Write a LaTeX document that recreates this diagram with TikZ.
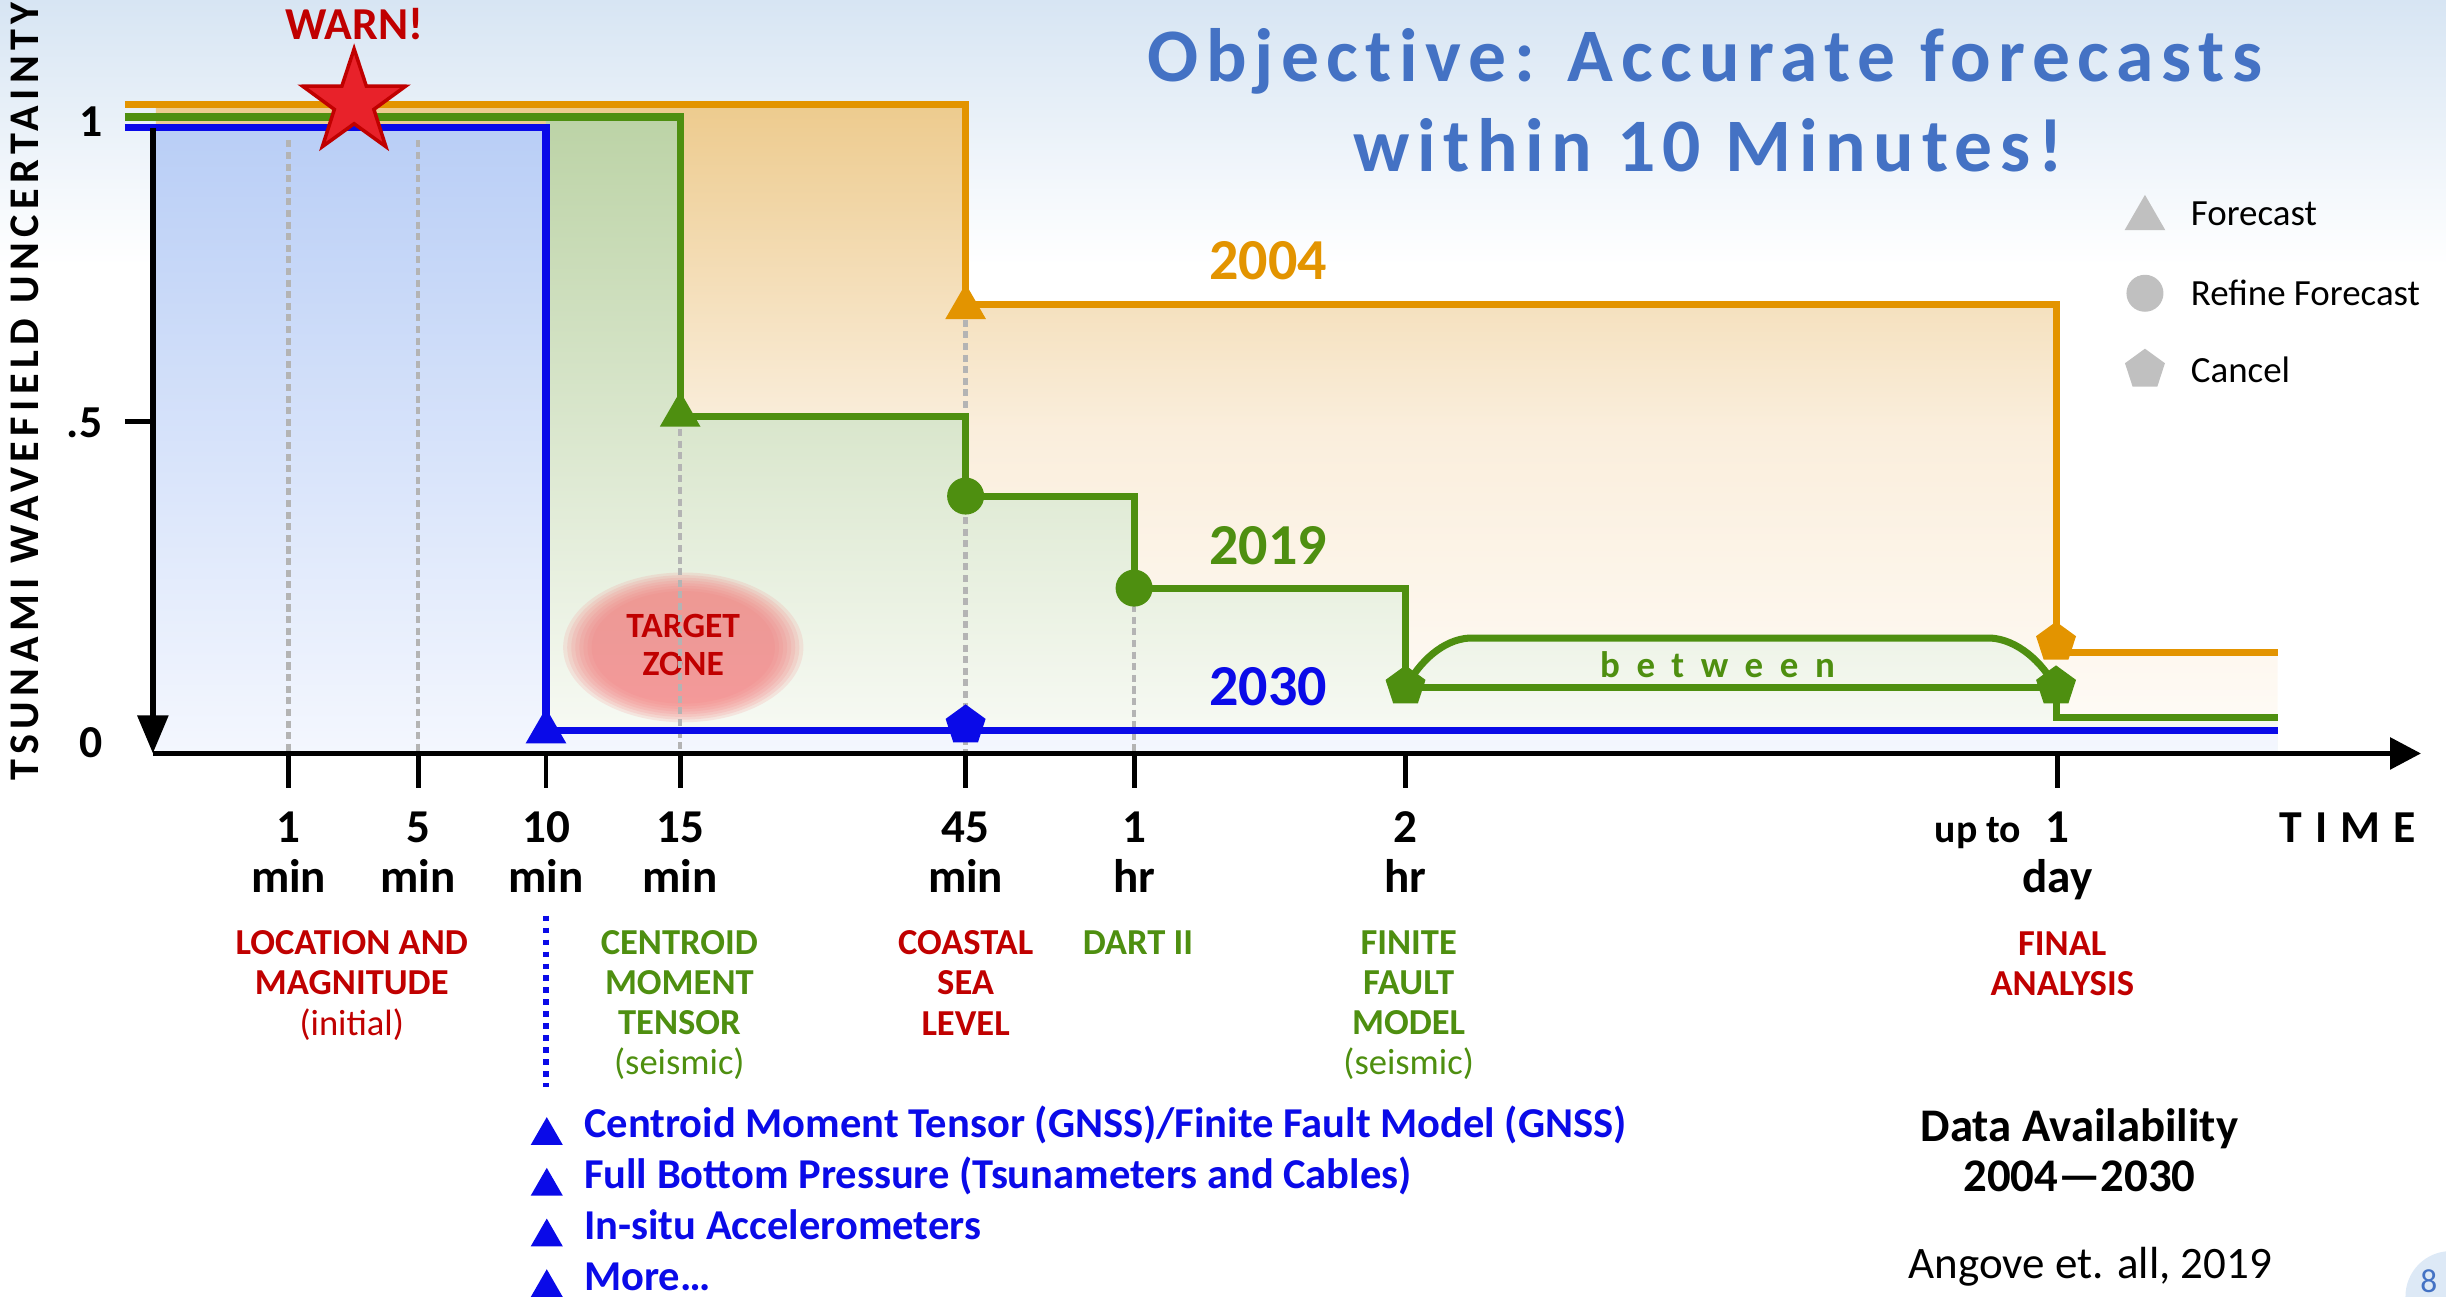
\documentclass[tikz,border=0pt]{standalone}
\usepackage{fontspec}
\setmainfont{Carlito}
\usetikzlibrary{arrows.meta,shapes.geometric}

\definecolor{line04}{HTML}{E39400}
\definecolor{line19}{HTML}{4E8F10}
\definecolor{line30}{HTML}{0A0AE8}
\definecolor{alertred}{HTML}{C00000}
\definecolor{warnred}{HTML}{E8222A}
\definecolor{titleblue}{HTML}{4472C4}
\definecolor{markgray}{HTML}{C0C0C0}
\definecolor{dotgray}{HTML}{B4B4B4}
\definecolor{bgblue}{HTML}{D7E5F3}
\definecolor{pageblue}{HTML}{DDE9F6}
\definecolor{fillAtop}{HTML}{EDCB8E}
\definecolor{fillAmid}{HTML}{FAEEDC}
\definecolor{fillAbot}{HTML}{FFFCF8}
\definecolor{fillBtop}{HTML}{BCD3A6}
\definecolor{fillBbot}{HTML}{F9FBF6}
\definecolor{fillCtop}{HTML}{B9CEF6}
\definecolor{fillCbot}{HTML}{F4F7FE}
\definecolor{blobred}{HTML}{F47F7F}

\tikzset{
  stepline/.style={line width=2pt},
  axisline/.style={line width=1.6pt, black},
  tickline/.style={line width=1.4pt, black},
  guideline/.style={dotgray, line width=1.3pt, dash pattern=on 2pt off 1.3pt},
  tri/.style={regular polygon, regular polygon sides=3, minimum size=0.47cm, inner sep=0pt},
  listtri/.style={regular polygon, regular polygon sides=3, minimum size=0.37cm, inner sep=0pt, fill=line30},
  pent/.style={regular polygon, regular polygon sides=5, minimum size=0.42cm, inner sep=0pt},
  refinedot/.style={circle, minimum size=0.37cm, inner sep=0pt},
  ticklab/.style={font=\fontsize{13.4}{14.2}\selectfont\bfseries, align=center, anchor=base, inner sep=0pt},
  catlab/.style={font=\fontsize{10.4}{11.4}\selectfont\bfseries, align=center, anchor=base, inner sep=0pt},
  yearlab/.style={font=\fontsize{16.5}{18}\selectfont\bfseries, inner sep=0pt},
  legendlab/.style={font=\fontsize{10.5}{12}\selectfont, anchor=west, inner sep=0pt},
  listlab/.style={font=\fontsize{12.1}{14}\selectfont\bfseries, line30, anchor=base west, inner sep=0pt},
  titlelab/.style={font=\fontsize{21.5}{24}\selectfont\bfseries\addfontfeature{LetterSpace=10,Ligatures=NoCommon}, titleblue, anchor=base, inner sep=0pt},
  ynum/.style={font=\fontsize{13}{14}\selectfont\bfseries, anchor=east, inner sep=0pt},
}

\begin{document}
\begin{tikzpicture}[x=0.0156cm, y=-0.0156cm]
  % 坐标轴位置
  \def\yaxis{98}
  \def\base{483}

  % 0. 画布与背景
  \useasboundingbox (0,0) rectangle (1568,831);
  \shade[top color=bgblue, bottom color=white] (0,0) rectangle (1568,170);

  % 1. 三个年份的阴影区域
  \shade[top color=fillAtop, bottom color=fillAbot, middle color=fillAmid]
    (100,67) -- (619,67) -- (619,195) -- (1318,195) -- (1318,418)
    -- (1460,418) -- (1460,\base) -- (100,\base) -- cycle;
  \shade[top color=fillBtop, bottom color=fillBbot]
    (350,75) -- (436,75) -- (436,267) -- (619,267) -- (619,318) -- (727,318)
    -- (727,377) -- (901,377) -- (901,441)
    .. controls (910,424) and (925,410) .. (942,409) -- (1276,409)
    .. controls (1293,410) and (1309,424) .. (1318,441)
    -- (1318,460) -- (1460,460) -- (1460,\base) -- (350,\base) -- cycle;
  \shade[top color=fillCtop, bottom color=fillCbot]
    (100,82) -- (350,82) -- (350,468) -- (1460,468) -- (1460,\base) -- (100,\base) -- cycle;

  % 2. 目标区（模糊红斑）
  \foreach \k in {0,...,7}
    \fill[blobred, opacity=0.16] (438,415) ellipse [x radius=77-2.6*\k, y radius=48-1.7*\k];
  % 多行节点的 base 是最后一行的基线
  \node[font=\fontsize{10.1}{10.8}\selectfont\bfseries, alertred, align=center, anchor=base, inner sep=0pt]
    (target) at (438,433) {TARGET\\ZONE};

  % 3. 灰色虚线
  \draw[guideline] (185,90) -- (185,\base);
  \draw[guideline] (268,90) -- (268,\base);
  \draw[guideline] (436,275) -- (436,\base);
  \draw[guideline] (619,205) -- (619,\base);
  \draw[guideline] (727,388) -- (727,\base);

  % 4. 阶梯线
  \draw[stepline, line04] (80,67) -- (619,67) -- (619,195) -- (1318,195) -- (1318,418) -- (1460,418);
  \draw[stepline, line19] (80,75) -- (436,75) -- (436,267) -- (619,267) -- (619,318) -- (727,318)
    -- (727,377) -- (901,377) -- (901,441) -- (1318,441) -- (1318,460) -- (1460,460);
  \draw[stepline, line19] (901,441) .. controls (910,424) and (925,410) .. (942,409) -- (1276,409)
    .. controls (1293,410) and (1309,424) .. (1318,441);
  \draw[stepline, line30] (80,82) -- (350,82) -- (350,468) -- (1460,468);

  % 5. 坐标轴
  \draw[axisline, -{Triangle[width=0.30cm, length=0.38cm]}] (\yaxis,82) -- (\yaxis,\base);
  \draw[axisline, -{Triangle[width=0.31cm, length=0.31cm]}] (\yaxis,\base) -- (1552,\base);
  \draw[tickline] (80,270) -- (\yaxis,270);
  \node[ynum] (y1) at (66,78) {1};
  \node[ynum] (y5) at (66,271) {.5};
  \node[ynum] (y0) at (66,476) {0};
  \node[font=\fontsize{12}{13}\selectfont\bfseries\addfontfeature{LetterSpace=13}, rotate=90, inner sep=0pt]
    (ylab) at (16,251) {TSUNAMI WAVEFIELD UNCERTAINTY};

  % 6. 时间刻度
  \foreach \xx/\num/\unit [count=\i] in {185/1/min, 268/5/min, 350/10/min, 436/15/min,
      619/45/min, 727/1/hr, 901/2/hr, 1319/1/day} {
    \draw[tickline] (\xx,\base) -- (\xx,505);
    \node[ticklab] (tick\i) at (\xx,572) {\num\\\unit};
  }
  \node[font=\fontsize{11.3}{12}\selectfont\bfseries, anchor=base, inner sep=0pt] (upto) at (1268,540) {up to};
  \node[font=\fontsize{13}{14}\selectfont\bfseries\addfontfeature{LetterSpace=6}, anchor=base, inner sep=0pt]
    (timelab) at (1505,540) {T I M E};

  % 7. 标记
  \node[star, star points=5, star point ratio=2.6, minimum size=1.08cm, inner sep=0pt,
    fill=warnred, draw=alertred, line width=1pt] (warnstar) at (227,66) {};
  \node[font=\fontsize{13}{14}\selectfont\bfseries, alertred, anchor=base, inner sep=0pt] (warn) at (227,25.6) {WARN!};
  \node[tri, fill=line04] (fore04) at (619,197) {};
  \node[pent, fill=line04] (canc04) at (1318,412) {};
  \node[tri, fill=line19] (fore19) at (436,266) {};
  \node[refinedot, fill=line19] (refA19) at (619,318) {};
  \node[refinedot, fill=line19] (refB19) at (727,377) {};
  \node[pent, fill=line19] (cancA19) at (901,440) {};
  \node[pent, fill=line19] (cancB19) at (1318,440) {};
  \node[tri, fill=line30] (fore30) at (350,469) {};
  \node[pent, fill=line30] (canc30) at (619,465) {};

  % 8. 年份与 between
  \node[yearlab, line04] (y2004) at (813,167) {2004};
  \node[yearlab, line19] (y2019) at (813,350) {2019};
  \node[yearlab, line30] (y2030) at (813,440) {2030};
  \node[font=\fontsize{10.5}{12}\selectfont\bfseries\addfontfeature{LetterSpace=45}, line19, inner sep=0pt]
    (between) at (1101,426) {between};

  % 9. 标题与图例
  \node[titlelab] (title1) at (1093,52.5) {Objective: Accurate forecasts};
  \node[titlelab] (title2) at (1095,110) {within 10 Minutes!};
  \node[tri, fill=markgray] (legtri) at (1375,140) {};
  \node[refinedot, fill=markgray] (legdot) at (1375,188) {};
  \node[pent, fill=markgray] (legpent) at (1375,237) {};
  \node[legendlab] (legfore) at (1404,137) {Forecast};
  \node[legendlab] (legref) at (1404,188) {Refine Forecast};
  \node[legendlab] (legcanc) at (1404,237) {Cancel};

  % 10. 数据来源标签（坐标为最后一行基线）
  \node[catlab, alertred] (catloc) at (225.5,663.5) {LOCATION AND\\MAGNITUDE\\{\mdseries (initial)}};
  \node[catlab, line19] (catcmt) at (435.5,689) {CENTROID\\MOMENT\\TENSOR\\{\mdseries (seismic)}};
  \node[catlab, alertred] (catsea) at (619,663.5) {COASTAL\\SEA\\LEVEL};
  \node[catlab, line19] (catdart) at (729.5,612) {DART II};
  \node[catlab, line19] (catffm) at (903,689) {FINITE\\FAULT\\MODEL\\{\mdseries (seismic)}};
  \node[catlab, alertred] (catfin) at (1322,638) {FINAL\\ANALYSIS};

  % 11. 2030 新数据列表
  \draw[line30, line width=1.8pt, dash pattern=on 1.6pt off 1.8pt] (350,587) -- (350,697);
  \foreach \txt [count=\i] in {{Centroid Moment Tensor (GNSS)/Finite Fault Model (GNSS)},
      {Full Bottom Pressure (Tsunameters and Cables)}, {In-situ Accelerometers}, {More…}} {
    \node[listtri] (ltri\i) at (350.5,728+32.5*\i-32.5) {};
    \node[listlab] (ltxt\i) at (374,729.5+32.5*\i-32.5) {\txt};
  }

  % 12. 右下角
  \node[font=\fontsize{13.3}{14.2}\selectfont\bfseries, align=center, anchor=base, inner sep=0pt]
    (avail) at (1333,764) {Data Availability\\2004—2030};
  \node[font=\fontsize{12.8}{14}\selectfont, anchor=base, inner sep=0pt] (cite) at (1340,819.5) {Angove et. all, 2019};
  \begin{scope}
    \clip (0,0) rectangle (1568,831);
    \fill[pageblue] (1571,831) circle [radius=29];
  \end{scope}
  \node[font=\fontsize{9.5}{10}\selectfont, titleblue, inner sep=0pt] (pagenum) at (1557,821) {8};
\end{tikzpicture}
\end{document}
